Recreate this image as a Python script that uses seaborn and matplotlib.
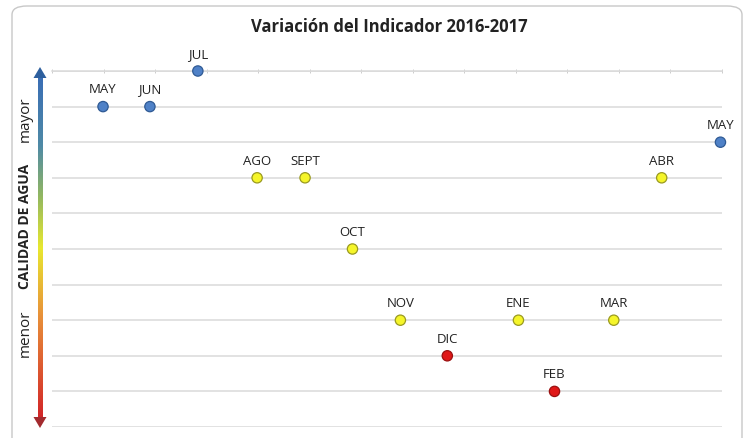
import numpy as np
import pandas as pd
import matplotlib.pyplot as plt
import seaborn as sns
from matplotlib.colors import LinearSegmentedColormap
from matplotlib.patches import FancyBboxPatch, Polygon

# data
months = ["MAY", "JUN", "JUL", "AGO", "SEPT", "OCT", "NOV", "DIC", "ENE", "FEB", "MAR", "ABR", "MAY "]
x_pos = [0.99, 1.9, 2.83, 3.98, 4.91, 5.83, 6.76, 7.67, 9.05, 9.75, 10.9, 11.83, 12.97]
quality = [9, 9, 10, 7, 7, 5, 3, 2, 3, 1, 3, 7, 8]
level = ["alta", "alta", "alta", "media", "media", "media", "media", "baja", "media", "baja", "media", "media", "alta"]

df = pd.DataFrame({"mes": months, "x": x_pos, "y": quality, "nivel": level})

face = {"alta": "#4f81c7", "media": "#f5f52a", "baja": "#e01818"}
edge = {"alta": "#2f5a94", "media": "#9a9a20", "baja": "#9a1010"}

sns.set_theme(style="white")
plt.rcParams["font.family"] = ["Open Sans", "DejaVu Sans"]

W, H = 746, 439
fig = plt.figure(figsize=(W / 100, H / 100), dpi=100)

# outer chart frame (bottom runs off the picture)
frame = FancyBboxPatch((12 / W, -20 / H), 730 / W, (H - 7 + 20) / H,
                       boxstyle="round,pad=0,rounding_size=0.02",
                       transform=fig.transFigure, fc="none", ec="#c8c8c8", lw=1.0, zorder=-1)
fig.patches.append(frame)

ax = fig.add_axes([52 / W, (H - 428) / H, 670 / W, 356 / H])
ax.set_facecolor("none")

sns.scatterplot(data=df, x="x", y="y", hue="nivel", palette=face, s=55,
                edgecolor=[edge[v] for v in df["nivel"]], linewidth=0.9,
                legend=False, ax=ax, zorder=3, clip_on=False)

for _, r in df.iterrows():
    ax.annotate(r["mes"].strip(), (r["x"], r["y"]), xytext=(0, 8), textcoords="offset points",
                ha="center", va="bottom", fontsize=9.5, color="#222222")

ax.set_xlim(0, 13)
ax.set_ylim(0, 10)
ax.set_yticks(range(0, 11))
ax.set_xticks(range(0, 14))
ax.yaxis.grid(True, color="#dadada", lw=1.1)
ax.xaxis.tick_top()
ax.tick_params(axis="x", which="both", direction="inout", length=3.5, width=0.7,
               color="#cccccc", labeltop=False, labelbottom=False, top=True, bottom=False)
ax.tick_params(axis="y", left=False, labelleft=False)
for s in ["left", "right", "bottom"]:
    ax.spines[s].set_visible(False)
ax.spines["top"].set_color("#dadada")
ax.spines["top"].set_linewidth(1.1)
ax.set_xlabel("")
ax.set_ylabel("")

# gradient arrow on the left
aax = fig.add_axes([30 / W, (H - 432) / H, 20 / W, 366 / H])
aax.set_xlim(0, 20)
aax.set_ylim(432, 66)
aax.axis("off")
cmap = LinearSegmentedColormap.from_list(
    "calidad", [(0.0, "#3a6eb5"), (0.2, "#4f8aa6"), (0.35, "#93b860"),
                (0.5, "#e8e830"), (0.7, "#e8903a"), (1.0, "#d22428")])
grad = np.linspace(0, 1, 256).reshape(-1, 1)
aax.imshow(grad, cmap=cmap, extent=(7.5, 12.5, 420, 78), aspect="auto")
aax.add_patch(Polygon([(10, 68), (3.5, 79), (16.5, 79)], closed=True, fc="#2d5f9e", ec="none"))
aax.add_patch(Polygon([(10, 429), (3.5, 418), (16.5, 418)], closed=True, fc="#a32a2e", ec="none"))

fig.text(25 / W, 1 - 119 / H, "mayor", rotation=90, ha="center", va="center", fontsize=11, color="#222222")
fig.text(25 / W, 1 - 226 / H, "CALIDAD DE AGUA", rotation=90, ha="center", va="center",
         fontsize=10, fontweight="bold", color="#222222")
fig.text(25 / W, 1 - 333 / H, "menor", rotation=90, ha="center", va="center", fontsize=11, color="#222222")

fig.text(389 / W, 1 - 27 / H, "Variación del Indicador 2016-2017", ha="center", va="center",
         fontsize=12, fontweight="bold", color="#222222")

fig.savefig("out.png", dpi=100)
